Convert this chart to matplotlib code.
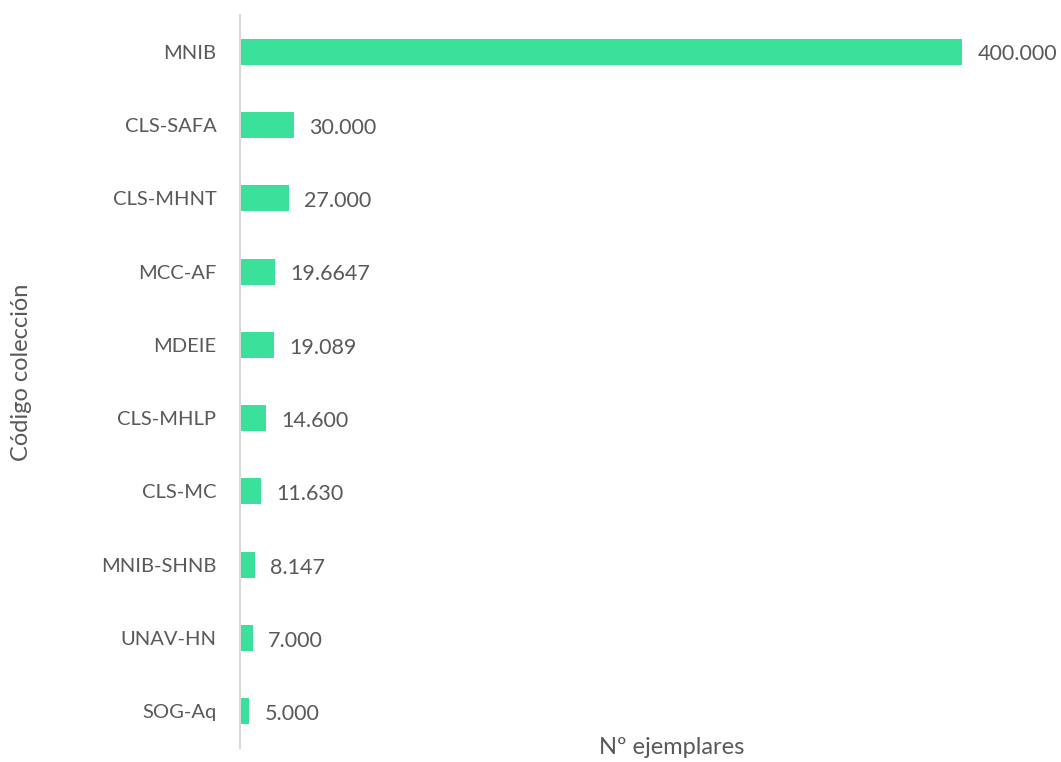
import matplotlib
matplotlib.use("Agg")
import matplotlib.pyplot as plt

# Collection codes and number of specimens held by each
codes = ["MNIB", "CLS-SAFA", "CLS-MHNT", "MCC-AF", "MDEIE",
         "CLS-MHLP", "CLS-MC", "MNIB-SHNB", "UNAV-HN", "SOG-Aq"]
specimens = [400000, 30000, 27000, 19664.7, 19089,
             14600, 11630, 8147, 7000, 5000]
value_labels = ["400.000", "30.000", "27.000", "19.6647", "19.089",
                "14.600", "11.630", "8.147", "7.000", "5.000"]

plt.rcParams["font.family"] = ["Lato", "DejaVu Sans"]
TEXT = "#595959"
BAR = "#3BE09A"

W, H = 1061, 762
fig = plt.figure(figsize=(W / 100, H / 100), dpi=100)
left, right, top, bottom = 240, 1000, 15, 748
ax = fig.add_axes([left / W, 1 - bottom / H, (right - left) / W, (bottom - top) / H])

ypos = list(range(len(codes)))
ax.barh(ypos, specimens, height=0.355, color=BAR)
ax.set_ylim(len(codes) - 0.5, -0.5)
ax.set_xlim(0, 400000 * (right - left) / 722)

for y, v, lab in zip(ypos, specimens, value_labels):
    ax.annotate(lab, (v, y), xytext=(11, -2), textcoords="offset points",
                va="center", ha="left", fontsize=15.5, color=TEXT)

ax.set_yticks(ypos)
ax.set_yticklabels(codes, fontsize=14.5, color=TEXT)
ax.tick_params(axis="y", length=0, pad=17)
ax.set_xticks([])

for s in ("top", "right", "bottom"):
    ax.spines[s].set_visible(False)
ax.spines["left"].set_color("#D9D9D9")
ax.spines["left"].set_linewidth(1.5)

fig.text(672 / W, 1 - 748 / H, "Nº ejemplares", ha="center", va="center",
         fontsize=17, color=TEXT)
fig.text(22 / W, 1 - 372 / H, "Código colección", ha="center", va="center",
         rotation=90, fontsize=17, color=TEXT)

fig.savefig("out.png", dpi=100, facecolor="white")
